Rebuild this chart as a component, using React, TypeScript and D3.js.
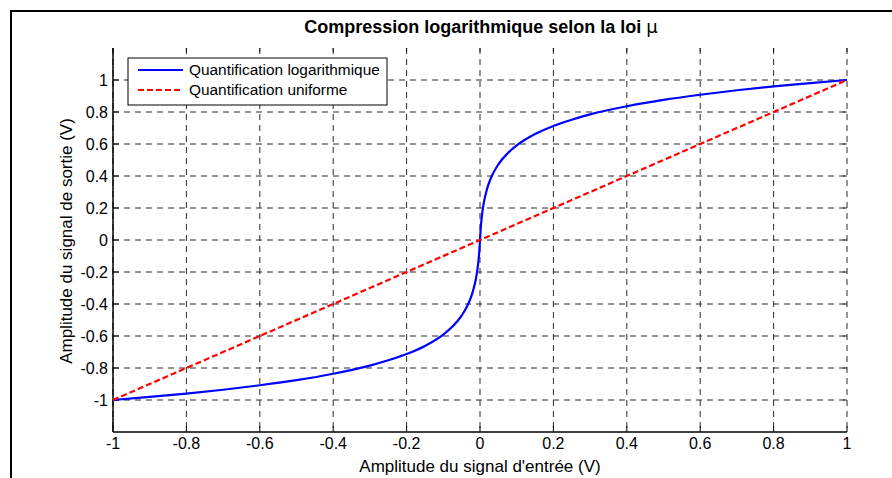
import React from "react";
import * as d3 from "d3";

// Tick values
const xTicks = [-1, -0.8, -0.6, -0.4, -0.2, 0, 0.2, 0.4, 0.6, 0.8, 1];
const yTicks = [-1, -0.8, -0.6, -0.4, -0.2, 0, 0.2, 0.4, 0.6, 0.8, 1];

// Logarithmic (mu-law) quantification curve
const logX = [
  -1, -0.9, -0.8, -0.7, -0.6, -0.5, -0.4, -0.3, -0.25, -0.2, -0.15, -0.1, -0.075, -0.05, -0.03, -0.02, -0.01, -0.005, -0.002, 0,
  0.002, 0.005, 0.01, 0.02, 0.03, 0.05, 0.075, 0.1, 0.15, 0.2, 0.25, 0.3, 0.4, 0.5, 0.6, 0.7, 0.8, 0.9, 1,
];
const logY = [
  -1, -0.981, -0.96, -0.936, -0.908, -0.876, -0.836, -0.785, -0.752, -0.713, -0.662, -0.591, -0.541, -0.473, -0.389, -0.326, -0.228, -0.148, -0.074, 0,
  0.074, 0.148, 0.228, 0.326, 0.389, 0.473, 0.541, 0.591, 0.662, 0.713, 0.752, 0.785, 0.836, 0.876, 0.908, 0.936, 0.96, 0.981, 1,
];

// Uniform quantification line
const uniX = [-1, 1];
const uniY = [-1, 1];

const legendLabels = ["Quantification logarithmique", "Quantification uniforme"];
const title = "Compression logarithmique selon la loi ";
const xLabel = "Amplitude du signal d'entrée (V)";
const yLabel = "Amplitude du signal de sortie (V)";

const W = 892;
const H = 478;
const FONT = "'Liberation Sans', Arial, sans-serif";

export default function App() {
  const x = d3.scaleLinear().domain([-1, 1]).range([113, 847]);
  const y = d3.scaleLinear().domain([-1.2, 1.2]).range([432, 48]);
  const line = d3
    .line<[number, number]>()
    .x((d) => x(d[0]))
    .y((d) => y(d[1]))
    .curve(d3.curveMonotoneX);
  const logPts: [number, number][] = logX.map((v, i) => [v, logY[i]]);
  const uniPts: [number, number][] = uniX.map((v, i) => [v, uniY[i]]);
  const [x0, x1] = x.range();
  const [yb, yt] = y.range();
  const gridDash = "6,5";
  const gridColor = "#2a2a2a";

  return (
    <svg
      width={W}
      height={H}
      style={{ position: "absolute", left: 0, top: 0, background: "#fff" }}
      fontFamily={FONT}
    >
      <rect x={0} y={0} width={W} height={H} fill="#fff" />
      {/* outer frame */}
      <path d={`M11,${H} V11 H${W}`} fill="none" stroke="#000" strokeWidth={2} />

      {/* grid */}
      {xTicks.map((t) => (
        <line key={"gx" + t} x1={x(t)} x2={x(t)} y1={yt} y2={yb} stroke={gridColor} strokeWidth={1} strokeDasharray={gridDash} />
      ))}
      {yTicks.map((t) => (
        <line key={"gy" + t} x1={x0} x2={x1} y1={y(t)} y2={y(t)} stroke={gridColor} strokeWidth={1} strokeDasharray={gridDash} />
      ))}

      {/* ticks */}
      {xTicks.map((t) => (
        <g key={"tx" + t}>
          <line x1={x(t)} x2={x(t)} y1={yb} y2={yb - 6} stroke="#000" />
          <line x1={x(t)} x2={x(t)} y1={yt} y2={yt + 4} stroke="#000" strokeWidth={0.8} />
          <text x={x(t)} y={yb + 17} textAnchor="middle" fontSize={16}>
            {String(t)}
          </text>
        </g>
      ))}
      {yTicks.map((t) => (
        <g key={"ty" + t}>
          <line x1={x0} x2={x0 + 6} y1={y(t)} y2={y(t)} stroke="#000" />
          <line x1={x1} x2={x1 - 4} y1={y(t)} y2={y(t)} stroke="#000" strokeWidth={0.8} />
          <text x={x0 - 5} y={y(t)} dy="0.35em" textAnchor="end" fontSize={16}>
            {String(t)}
          </text>
        </g>
      ))}

      {/* axes lines */}
      <line x1={x0} x2={x0} y1={yt} y2={yb} stroke="#000" strokeWidth={1.5} />
      <line x1={x0} x2={x1} y1={yb} y2={yb} stroke="#000" strokeWidth={1.5} />

      {/* data */}
      <path d={line(logPts) || ""} fill="none" stroke="#0000ff" strokeWidth={2.2} />
      <path d={line(uniPts) || ""} fill="none" stroke="#ff0000" strokeWidth={2.2} strokeDasharray="6,3" />

      {/* title */}
      <text x={481} y={33} textAnchor="middle" fontSize={18} fontWeight="bold">
        {title}
        <tspan fontWeight="normal" fontFamily="'DejaVu Sans', sans-serif">μ</tspan>
      </text>

      {/* axis labels */}
      <text x={480} y={472} textAnchor="middle" fontSize={17}>
        {xLabel}
      </text>
      <text transform={`translate(72,241) rotate(-90)`} textAnchor="middle" fontSize={17}>
        {yLabel}
      </text>

      {/* legend */}
      <rect x={128} y={58} width={259} height={47} fill="#fff" stroke="#000" strokeWidth={1} />
      <line x1={138} x2={183} y1={70} y2={70} stroke="#0000ff" strokeWidth={2.2} />
      <line x1={138} x2={183} y1={90} y2={90} stroke="#ff0000" strokeWidth={2.2} strokeDasharray="6,3" />
      <text x={189} y={70} dy="0.35em" fontSize={15.4}>
        {legendLabels[0]}
      </text>
      <text x={189} y={90} dy="0.35em" fontSize={15.4}>
        {legendLabels[1]}
      </text>
    </svg>
  );
}
